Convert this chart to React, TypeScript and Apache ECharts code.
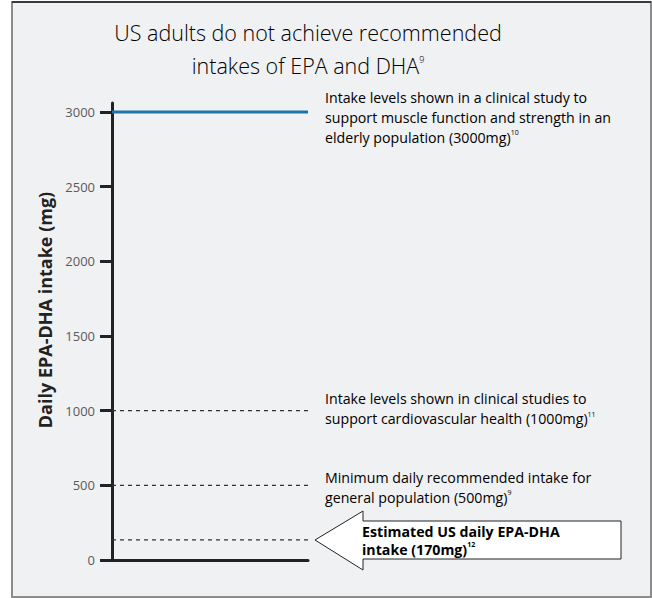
import React, { useEffect, useRef } from "react";
import * as echarts from "echarts";

// ---- data ----
const yTicks = [0, 500, 1000, 1500, 2000, 2500, 3000];
const muscleLevel = [3000, 3000];
const cardioLevel = [1000, 1000];
const minimumLevel = [500, 500];
const usEstimateLevel = [135, 135];
const xSpan = [0, 1];
const titleLine1 = "US adults do not achieve recommended";
const titleLine2 = "intakes of EPA and DHA";
const titleSup = "9";
const axisName = "Daily EPA-DHA intake (mg)";
const note3000 = ["Intake levels shown in a clinical study to", "support muscle function and strength in an", "elderly population (3000mg)"];
const note3000Sup = "10";
const note1000 = ["Intake levels shown in clinical studies to", "support cardiovascular health (1000mg)"];
const note1000Sup = "11";
const note500 = ["Minimum daily recommended intake for", "general population (500mg)"];
const note500Sup = "9";
const noteUS = ["Estimated US daily EPA-DHA", "intake (170mg)"];
const noteUSSup = "12";

const FONT = "'Open Sans', 'Noto Sans', sans-serif";

function pts(vals: number[]) {
  return xSpan.map((x, i) => [x, vals[i]]);
}

function noteText(lines: string[], sup: string) {
  const body = lines.map((l, i) => (i === lines.length - 1 ? `{t|${l}}{s|${sup}}` : `{t|${l}}`));
  return body.join("\n");
}

export default function App() {
  const ref = useRef<HTMLDivElement>(null);
  useEffect(() => {
    if (!ref.current) return;
    const chart = echarts.init(ref.current, undefined, { renderer: "svg" });
    const noteRich = (color: string, weight: string | number, size: number, lh: number) => ({
      t: { fontSize: size, lineHeight: lh, color, fontWeight: weight, fontFamily: FONT },
      s: { fontSize: 7, padding: [0, 0, 9, 0], color, fontWeight: weight, fontFamily: FONT },
    });
    const dashed = (name: string, vals: number[]) => ({
      type: "line",
      name,
      data: pts(vals),
      symbol: "none",
      silent: true,
      lineStyle: { color: "#333", width: 1.2, type: [4, 4] },
      z: 3,
    });
    chart.setOption({
      animation: false,
      backgroundColor: "#ffffff",
      grid: { left: 112, right: 344, top: 103, bottom: 38, containLabel: false },
      xAxis: {
        type: "value",
        min: 0,
        max: 1,
        axisLine: { show: true, onZero: false, lineStyle: { color: "#222", width: 3 } },
        axisTick: { show: false },
        axisLabel: { show: false },
        splitLine: { show: false },
      },
      yAxis: {
        type: "value",
        min: 0,
        max: 3060,
        interval: 510,
        axisLine: { show: true, lineStyle: { color: "#222", width: 3 } },
        axisTick: { show: true, length: 12, customValues: yTicks, lineStyle: { color: "#222", width: 3 } },
        axisLabel: {
          customValues: yTicks,
          margin: 17,
          fontFamily: FONT,
          fontSize: 13,
          color: "#5a5a5a",
          formatter: (v: number) => String(v),
        },
        splitLine: { show: false },
      },
      graphic: [
        { type: "rect", z: -10, shape: { x: 12, y: 2, width: 639, height: 595 }, style: { fill: "#f0f1f3", stroke: "#8c8c8c", lineWidth: 2 } },
        { type: "line", z: -9, shape: { x1: 12, y1: 2, x2: 651, y2: 2 }, style: { stroke: "#3a3a3a", lineWidth: 2 } },
        {
          type: "text",
          x: 308,
          y: 15.5,
          style: {
            text: `{t|${titleLine1}}\n{t|${titleLine2}}{s|${titleSup}}`,
            align: "center",
            verticalAlign: "top",
            rich: {
              t: { fontSize: 21.5, lineHeight: 33, color: "#3e3e3e", fontWeight: 300, fontFamily: FONT },
              s: { fontSize: 9, padding: [0, 0, 11, 0], color: "#3e3e3e", fontWeight: 300, fontFamily: FONT },
            },
          },
        },
        {
          type: "text",
          x: 45,
          y: 310,
          rotation: Math.PI / 2,
          style: {
            text: axisName,
            align: "center",
            verticalAlign: "middle",
            fontFamily: FONT,
            fontWeight: "bold",
            fontSize: 18,
            fill: "#222",
          },
        },
        {
          type: "text",
          x: 325,
          y: 87,
          style: { text: noteText(note3000, note3000Sup), rich: noteRich("#6a6a6a", "normal", 14.2, 20) },
        },
        {
          type: "text",
          x: 325,
          y: 388,
          style: { text: noteText(note1000, note1000Sup), rich: noteRich("#6a6a6a", "normal", 14.2, 20.5) },
        },
        {
          type: "text",
          x: 325,
          y: 468,
          style: { text: noteText(note500, note500Sup), rich: noteRich("#6a6a6a", "normal", 14.2, 19.5) },
        },
        {
          type: "polygon",
          shape: { points: [[315, 540], [363, 511], [363, 521], [621, 521], [621, 559], [363, 559], [363, 570]] },
          style: { fill: "#ffffff", stroke: "#222", lineWidth: 1 },
        },
        {
          type: "text",
          x: 362,
          y: 522,
          style: { text: noteText(noteUS, noteUSSup), rich: noteRich("#222", "bold", 14.2, 18) },
        },
      ],
      series: [
        {
          type: "line",
          name: "muscle",
          data: pts(muscleLevel),
          symbol: "none",
          silent: true,
          lineStyle: { color: "#1b75a8", width: 3 },
          z: 4,
        },
        dashed("cardio", cardioLevel),
        dashed("minimum", minimumLevel),
        dashed("us", usEstimateLevel),
      ],
    });
    return () => chart.dispose();
  }, []);
  return <div ref={ref} style={{ position: "fixed", left: 0, top: 0, width: 652, height: 598 }} />;
}
